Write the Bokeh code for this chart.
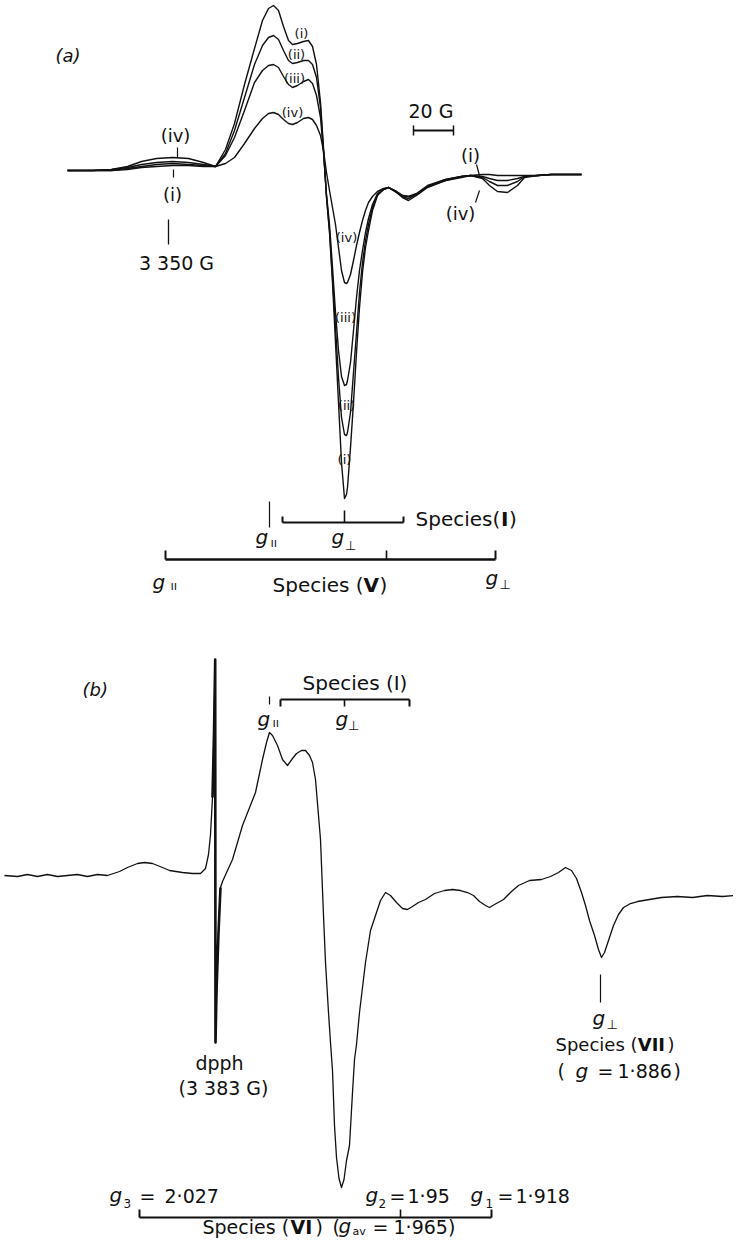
from bokeh.plotting import figure
from bokeh.layouts import column
from bokeh.models import Range1d
from bokeh.core.properties import value
from bokeh.embed import file_html
from bokeh.resources import INLINE

# ---------------- data: panel (a)  (field in G, derivative signal in arb. units) -------------
field_a = [3299.5, 3312, 3321.5, 3329.5, 3336.5, 3344, 3352, 3360, 3367.5, 3373.5,
           3378.5, 3383, 3388, 3393, 3397, 3400, 3402.5, 3405, 3407.5, 3410,
           3412, 3414.5, 3417.5, 3420, 3422, 3424, 3426, 3427.5, 3429, 3430.5,
           3432, 3433.5, 3435, 3436.5, 3438, 3439, 3439.5, 3441, 3442.5, 3444,
           3445.5, 3447, 3448.5, 3450, 3452, 3454.5, 3457.5, 3460, 3464, 3467,
           3470, 3474, 3479.5, 3488.5, 3496.5, 3501, 3507, 3510.5, 3514.5, 3519.5,
           3524.5, 3528, 3534.5, 3541.5, 3549, 3556.5]
curve_i = [0, 0, 0, 1, 3, 4, 5, 5, 4, 4,
           21, 47, 86, 122, 150, 162, 165, 160, 144, 130,
           126, 127, 129, 130, 124, 106, 68, 23, -27, -62,
           -112, -172, -232, -292, -328, -324, -317, -277, -232, -182,
           -137, -102, -77, -60, -40, -25, -19, -17, -21, -25,
           -26, -23, -15, -9, -6, -5, -4, -4, -5, -5,
           -5, -5, -5, -4, -4, -4]
curve_ii = [0, 0, 0, 2, 4, 6, 7, 6, 5, 4,
            17, 40, 73, 106, 125, 133, 135, 131, 120, 110,
            107, 108, 110, 110, 106, 93, 63, 20, -26, -60,
            -107, -157, -207, -247, -264, -265, -262, -242, -202, -162,
            -122, -92, -70, -54, -37, -24, -19, -17, -21, -25,
            -26, -24, -16, -9, -6, -5, -6, -8, -10, -10,
            -8, -6, -5, -4, -4, -4]
curve_iii = [0, 0, 1, 3, 6, 8, 9, 8, 6, 4,
             15, 33, 60, 88, 100, 105, 106, 103, 94, 86,
             83, 85, 89, 91, 87, 75, 53, 18, -24, -54,
             -97, -142, -180, -206, -215, -214, -210, -192, -160, -127,
             -100, -80, -62, -48, -34, -23, -19, -17, -22, -26,
             -28, -24, -16, -10, -6, -5, -7, -11, -15, -15,
             -11, -6, -5, -4, -4, -4]
curve_iv = [0, 0, 1, 4, 9, 12, 13, 12, 8, 4,
            7, 13, 27, 42, 52, 57, 58, 56, 51, 47,
            46, 48, 52, 53, 51, 45, 35, 20, -2, -20,
            -37, -54, -77, -100, -112, -113, -112, -104, -90, -75,
            -62, -50, -40, -32, -26, -21, -18, -17, -22, -27,
            -30, -25, -17, -10, -7, -5, -8, -15, -21, -22,
            -15, -7, -5, -4, -4, -4]
curve_labels = ["(i)", "(ii)", "(iii)", "(iv)"]

# ---------------- data: panel (b) -------------
field_b = [3278, 3284.5, 3289.5, 3294.5, 3299.5, 3304.5, 3309.5, 3314.5, 3319.5, 3324.5,
           3329.5, 3335.5, 3339.5, 3344.5, 3348, 3352, 3357, 3360.5, 3367, 3372,
           3376, 3378.5, 3380, 3381, 3382, 3382.75, 3383.35, 3383.5, 3384, 3385,
           3386, 3387, 3392, 3397, 3403.5, 3407, 3409, 3410.5, 3412, 3414.5,
           3417, 3419.5, 3422, 3424, 3426.5, 3428.5, 3430.5, 3432, 3433.5, 3435,
           3436, 3437.5, 3438.5, 3440, 3441, 3442, 3443, 3444, 3445.25, 3446.5,
           3447.75, 3449, 3450.5, 3452, 3453, 3454, 3455.5, 3457, 3458.5, 3461,
           3463.5, 3466, 3468.5, 3471, 3474, 3477, 3479.5, 3482, 3485, 3488.5,
           3493, 3498, 3502, 3506, 3509.5, 3512.5, 3515.5, 3518.5, 3520.5, 3523,
           3527.5, 3531.5, 3535, 3540.5, 3546.5, 3551, 3555, 3558.5, 3561.5, 3564,
           3566.5, 3568.5, 3570.5, 3573, 3575, 3576.5, 3578, 3580, 3582.5, 3585,
           3587.5, 3591, 3594.5, 3600.5, 3606.5, 3614.5, 3622, 3629.5, 3637, 3642.5]
signal_b = [0, -1, 1, -1, 1, -1, 0, 1, -1, 1,
            0, 4, 8, 12, 13, 12, 8, 5, 3, 2,
            2, 7, 21, 41, 78, 143, 216, -167, -117, -57,
            -12, -6, 16, 50, 83, 116, 133, 143, 140, 130,
            116, 110, 117, 122, 125, 125, 120, 113, 96, 60,
            36, -40, -87, -137, -167, -195, -250, -282, -303, -312,
            -304, -285, -270, -217, -184, -169, -137, -112, -87, -55,
            -40, -25, -17, -20, -27, -33, -34, -31, -27, -24,
            -18, -15, -14, -15, -17, -20, -26, -30, -32, -29,
            -24, -16, -10, -5, -4, -1, 3, 8, 5, -3,
            -17, -30, -45, -60, -74, -82, -77, -65, -50, -39,
            -32, -28, -26, -24, -22, -21, -22, -20, -21, -20]

# g-value marker positions (G)
species_I_a = {"left": 3407, "right": 3467.5, "g_par": 3400.5, "g_perp": 3438}
species_V_a = {"left": 3348.5, "right": 3513.5, "mid": 3459}
species_I_b = {"left": 3416, "right": 3480.5, "g_par": 3410.5, "g_perp": 3448}
species_VI_b = {"g3": 3345.5, "g2": 3476, "g1": 3521.5}
species_VII_b = 3576
dpph_field = 3383
marker_3350 = 3350
scale_bar = (3472.5, 3492.5)   # 20 G

FONT = "DejaVu Sans"
INK = "#111111"
PAR = "\u0131\u0131"   # parallel sign drawn as two short bars
PERP = "\u22a5"


def make_fig(xr, yr):
    p = figure(width=733, height=620, x_range=Range1d(*xr), y_range=Range1d(*yr),
               output_backend="svg", toolbar_location=None,
               x_axis_location=None, y_axis_location=None,
               min_border=0, outline_line_color=None,
               background_fill_color="white", border_fill_color="white")
    p.xgrid.visible = False
    p.ygrid.visible = False
    return p


def T(p, x, y, s, size=19, style="normal", align="center", baseline="middle"):
    p.text(x=[x], y=[y], text=[s], text_font=value(FONT),
           text_font_size=value(f"{size}px"), text_font_style=style,
           text_align=align, text_baseline=baseline, text_color=INK)


def S(p, x0, y0, x1, y1, w=1.5):
    p.segment(x0=[x0], y0=[y0], x1=[x1], y1=[y1], line_color=INK, line_width=w)


# ======================= panel (a) =======================
pa = make_fig((3266, 3632.5), (-450, 170))
for c in (curve_iv, curve_iii, curve_ii, curve_i):
    pa.line(field_a, c, line_color=INK, line_width=1.4, line_join="round")

T(pa, 3293.5, 115, "(a)", 18, "italic", "left")
# left wing labels
T(pa, 3353.5, 35, "(iv)", 18)
S(pa, 3354.5, 23, 3354.5, 13, 1.2)
T(pa, 3352, -24, "(i)", 18)
S(pa, 3352.5, 1, 3352.5, -7, 1.2)
S(pa, marker_3350, -49, marker_3350, -74, 1.3)
T(pa, 3354, -92, "3 350 G", 19)
# peak labels
for x, y, s in [(3416.5, 137, "(i)"), (3414, 116, "(ii)"), (3413, 92, "(iii)"), (3412, 58, "(iv)")]:
    T(pa, x, y, s, 13)
# trough labels
for x, y, s in [(3439, -67, "(iv)"), (3438.5, -147, "(iii)"), (3439, -235, "(ii)"), (3438, -289, "(i)")]:
    T(pa, x, y, s, 13)
# scale bar
T(pa, 3481.25, 60, "20 G", 19)
S(pa, scale_bar[0], 40, scale_bar[1], 40, 2)
S(pa, scale_bar[0], 45, scale_bar[0], 35, 1.5)
S(pa, scale_bar[1], 45, scale_bar[1], 35, 1.5)
# right wing labels
T(pa, 3501, 15, "(i)", 18)
S(pa, 3504, 6, 3505.5, -5, 1.2)
T(pa, 3496, -43, "(iv)", 18)
S(pa, 3503.5, -32, 3505.5, -20, 1.2)

# Species (I) bracket
sI = species_I_a
S(pa, sI["left"], -352, sI["right"], -352, 2)
S(pa, sI["left"], -352, sI["left"], -346, 2)
S(pa, sI["right"], -352, sI["right"], -346, 2)
S(pa, sI["g_perp"], -352, sI["g_perp"], -340, 1.6)
S(pa, sI["g_par"], -331, sI["g_par"], -357, 1.2)
T(pa, 3473.5, -348, "Species(", 20, align="left")
T(pa, 3516.2, -348, "I", 20, "bold", align="left")
T(pa, 3520.3, -348, ")", 20, align="left")
T(pa, 3393.5, -366, "g", 20, "italic", "left")
T(pa, 3401, -372, PAR, 12, align="left")
T(pa, 3431.5, -366, "g", 20, "italic", "left")
T(pa, 3438.2, -375, PERP, 13, align="left")

# Species (V) bracket
sV = species_V_a
S(pa, sV["left"], -389, sV["right"], -389, 2.4)
S(pa, sV["left"], -389, sV["left"], -380, 2)
S(pa, sV["right"], -389, sV["right"], -380, 2)
S(pa, sV["mid"], -389, sV["mid"], -380, 1.6)
T(pa, 3402, -414, "Species (", 20, align="left")
T(pa, 3447.5, -414, "V", 20, "bold", align="left")
T(pa, 3455.5, -414, ")", 20, align="left")
T(pa, 3342, -411, "g", 20, "italic", "left")
T(pa, 3351, -415, PAR, 12, align="left")
T(pa, 3508.5, -407, "g", 20, "italic", "left")
T(pa, 3515.5, -414, PERP, 13, align="left")

# ======================= panel (b) =======================
pb = make_fig((3276, 3642.5), (-365, 255))
pb.line(field_b, signal_b, line_color=INK, line_width=1.3, line_join="round")
lo = field_b.index(3382)
hi = field_b.index(3386) + 1
pb.line(field_b[lo:hi], signal_b[lo:hi], line_color=INK, line_width=2.6, line_join="round")

T(pb, 3317, 186, "(b)", 18, "italic", "left")
# Species (I)
T(pb, 3453.25, 193, "Species (I)", 20)
sIb = species_I_b
S(pb, sIb["left"], 176, sIb["right"], 176, 2)
S(pb, sIb["left"], 176, sIb["left"], 169, 2)
S(pb, sIb["right"], 176, sIb["right"], 169, 2)
S(pb, sIb["g_perp"], 176, sIb["g_perp"], 169, 1.6)
S(pb, sIb["g_par"], 179, sIb["g_par"], 171, 1.2)
T(pb, 3404.5, 157, "g", 20, "italic", "left")
T(pb, 3412, 153, PAR, 12, align="left")
T(pb, 3443.5, 157, "g", 20, "italic", "left")
T(pb, 3449.8, 150, PERP, 13, align="left")

# dpph
T(pb, 3385.5, -187, "dpph", 19)
T(pb, 3387.5, -212, "(3 383 G)", 19)

# Species (VII)
S(pb, species_VII_b, -99, species_VII_b, -127, 1.2)
T(pb, 3572, -142, "g", 20, "italic", "left")
T(pb, 3579, -149, PERP, 13, align="left")
T(pb, 3553.5, -169, "Species (", 18, align="left")
T(pb, 3594.6, -169, "VII", 18, "bold", align="left")
T(pb, 3609.5, -169, ")", 18, align="left")
T(pb, 3554.5, -195, "(", 19, align="left")
T(pb, 3563.5, -195, "g", 20, "italic", "left")
T(pb, 3574.5, -195, "=", 19, align="left")
T(pb, 3584.5, -195, "1\u00b7886", 19, align="left")
T(pb, 3612.5, -195, ")", 19, align="left")

# Species (VI) bracket
sVI = species_VI_b
S(pb, sVI["g3"], -342, sVI["g1"], -342, 2)
S(pb, sVI["g3"], -342, sVI["g3"], -334, 2)
S(pb, sVI["g1"], -342, sVI["g1"], -334, 2)
S(pb, sVI["g2"], -342, sVI["g2"], -334, 1.6)
for gx, sub, subx, eqx, valx, val in [(3330.5, "3", 3337.5, 3345.5, 3358, "2\u00b7027"),
                                      (3458.5, "2", 3465, 3470.5, 3479.5, "1\u00b795"),
                                      (3511, "1", 3518.5, 3524.5, 3533.5, "1\u00b7918")]:
    T(pb, gx, -319, "g", 20, "italic", "left")
    T(pb, subx, -328, sub, 12, align="left")
    T(pb, eqx, -320, "=", 19, align="left")
    T(pb, valx, -320, val, 19, align="left")

YVI = -351
T(pb, 3377, YVI, "Species (", 19, align="left")
T(pb, 3421, YVI, "VI", 19, "bold", align="left")
T(pb, 3433.5, YVI, ")", 19, align="left")
T(pb, 3442, YVI, "(", 19, align="left")
T(pb, 3445, YVI + 1, "g", 20, "italic", "left")
T(pb, 3452, YVI - 5, "av", 11, align="left")
T(pb, 3462, YVI, "=", 19, align="left")
T(pb, 3472.5, YVI, "1\u00b7965)", 19, align="left")

layout = column(pa, pb, spacing=0)
open("out.html", "w").write(file_html(layout, INLINE))
